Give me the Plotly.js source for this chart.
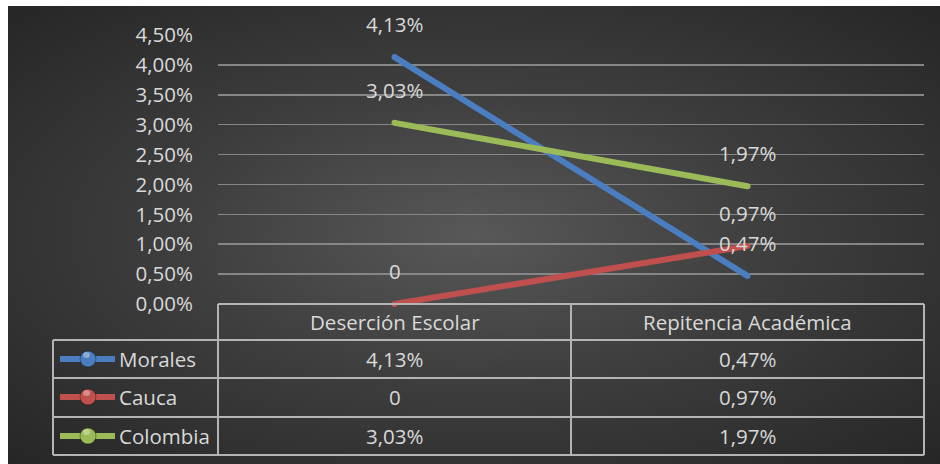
<!DOCTYPE html>
<html>
<head>
<meta charset="utf-8">
<script src="https://cdn.plot.ly/plotly-3.0.1.min.js"></script>
<style>
  html, body { margin: 0; padding: 0; background: #ffffff; }
  #wrap { position: relative; width: 940px; height: 464px; background: #ffffff; overflow: hidden; }
  #chart { position: absolute; left: 8px; top: 6px; width: 932px; height: 458px;
    background: radial-gradient(ellipse farthest-corner at 50% 50%, #585858 0%, #3e3e3e 45%, #262626 100%); }
</style>
</head>
<body>
<div id="wrap"><div id="chart"></div></div>
<script>
// ---- data ----
const categories = ["Deserción Escolar", "Repitencia Académica"];
const seriesNames = ["Morales", "Cauca", "Colombia"];
const morales = [4.13, 0.47];
const cauca = [0, 0.97];
const colombia = [3.03, 1.97];
const moralesText = ["4,13%", "0,47%"];
const caucaText = ["0", "0,97%"];
const colombiaText = ["3,03%", "1,97%"];
const yTicks = [0, 0.5, 1, 1.5, 2, 2.5, 3, 3.5, 4, 4.5];
const yTickLabels = ["0,00%", "0,50%", "1,00%", "1,50%", "2,00%", "2,50%", "3,00%", "3,50%", "4,00%", "4,50%"];

// ---- styling ----
const colors = ["#4a7ec0", "#c0504d", "#9bbb59"];
const values = [morales, cauca, colombia];
const texts = [moralesText, caucaText, colombiaText];
const textColor = "#d9d9d9";
const font = "'Open Sans', 'Liberation Sans', sans-serif";
const fs = 20.5;
const borderColor = "#b4b4b4";

// pixel helpers relative to page (plot area: x 218..924, y 35..304)
const PL = 218, PR = 924, PT = 35, PB = 304;
const X = p => (p - PL) / (PR - PL);
const Y = p => (PB - p) / (PB - PT);

const xIdx = categories.map((c, i) => i);

const traces = values.map((v, k) => ({
  type: "scatter",
  mode: "lines+markers",
  x: xIdx,
  y: v,
  name: seriesNames[k],
  line: { color: colors[k], width: 6 },
  marker: { color: colors[k], size: 6 },
  hoverinfo: "skip",
  showlegend: false,
  cliponaxis: false
}));

const shapes = [];
const annotations = [];

// table grid lines
const rowLines = [340, 378, 417, 455];
shapes.push({ type: "line", xref: "paper", yref: "paper", x0: X(218), x1: X(924), y0: Y(304), y1: Y(304),
  line: { color: borderColor, width: 2 } });
rowLines.forEach(r => shapes.push({ type: "line", xref: "paper", yref: "paper", x0: X(53), x1: X(924), y0: Y(r), y1: Y(r),
  line: { color: borderColor, width: 2 } }));
[218, 571, 924].forEach(c => shapes.push({ type: "line", xref: "paper", yref: "paper", x0: X(c), x1: X(c), y0: Y(304), y1: Y(455),
  line: { color: borderColor, width: 2 } }));
shapes.push({ type: "line", xref: "paper", yref: "paper", x0: X(53), x1: X(53), y0: Y(340), y1: Y(455),
  line: { color: borderColor, width: 2 } });

// header
categories.forEach((c, i) => annotations.push({ xref: "x", yref: "paper", x: i, y: Y(322), text: c, showarrow: false,
  font: { family: font, size: fs, color: textColor }, xanchor: "center", yanchor: "middle" }));

// rows
const rowCenters = [359, 397, 436];
seriesNames.forEach((n, k) => {
  const yc = rowCenters[k];
  shapes.push({ type: "line", xref: "paper", yref: "paper", x0: X(60), x1: X(115), y0: Y(yc), y1: Y(yc),
    line: { color: colors[k], width: 6 } });
  shapes.push({ type: "circle", xref: "paper", yref: "paper", x0: X(80), x1: X(96), y0: Y(yc - 8), y1: Y(yc + 8),
    fillcolor: colors[k], line: { color: "rgba(0,0,0,0.35)", width: 1 } });
  shapes.push({ type: "circle", xref: "paper", yref: "paper", x0: X(83), x1: X(90), y0: Y(yc - 7), y1: Y(yc - 1),
    fillcolor: "rgba(255,255,255,0.35)", line: { width: 0 } });
  annotations.push({ xref: "paper", yref: "paper", x: X(117), y: Y(yc), text: n, showarrow: false,
    font: { family: font, size: fs, color: textColor }, xanchor: "left", yanchor: "middle" });
  texts[k].forEach((t, i) => {
    annotations.push({ xref: "x", yref: "paper", x: i, y: Y(yc), text: t, showarrow: false,
      font: { family: font, size: fs, color: textColor }, xanchor: "center", yanchor: "middle" });
    // data label above point
    annotations.push({ xref: "x", yref: "y", x: i, y: values[k][i], text: t, showarrow: false, yshift: 33,
      font: { family: font, size: fs, color: textColor }, xanchor: "center", yanchor: "middle" });
  });
});

const layout = {
  width: 932, height: 458,
  margin: { l: PL - 8, r: 940 - PR, t: PT - 6, b: 458 - (PT - 6) - (PB - PT) },
  paper_bgcolor: "rgba(0,0,0,0)",
  plot_bgcolor: "rgba(0,0,0,0)",
  showlegend: false,
  xaxis: { range: [-0.5, 1.5], showticklabels: false, showgrid: false, zeroline: false, showline: false, fixedrange: true },
  yaxis: { range: [0, 4.5], tickmode: "array", tickvals: yTicks, ticktext: yTickLabels,
    showgrid: true, gridcolor: "#868686", gridwidth: 1.5, zeroline: false, showline: false,
    ticks: "outside", ticklen: 20, tickcolor: "rgba(0,0,0,0)",
    tickfont: { family: font, size: fs, color: textColor }, fixedrange: true },
  shapes: shapes,
  annotations: annotations
};

Plotly.newPlot("chart", traces, layout, { staticPlot: true, displayModeBar: false });
</script>
</body>
</html>
